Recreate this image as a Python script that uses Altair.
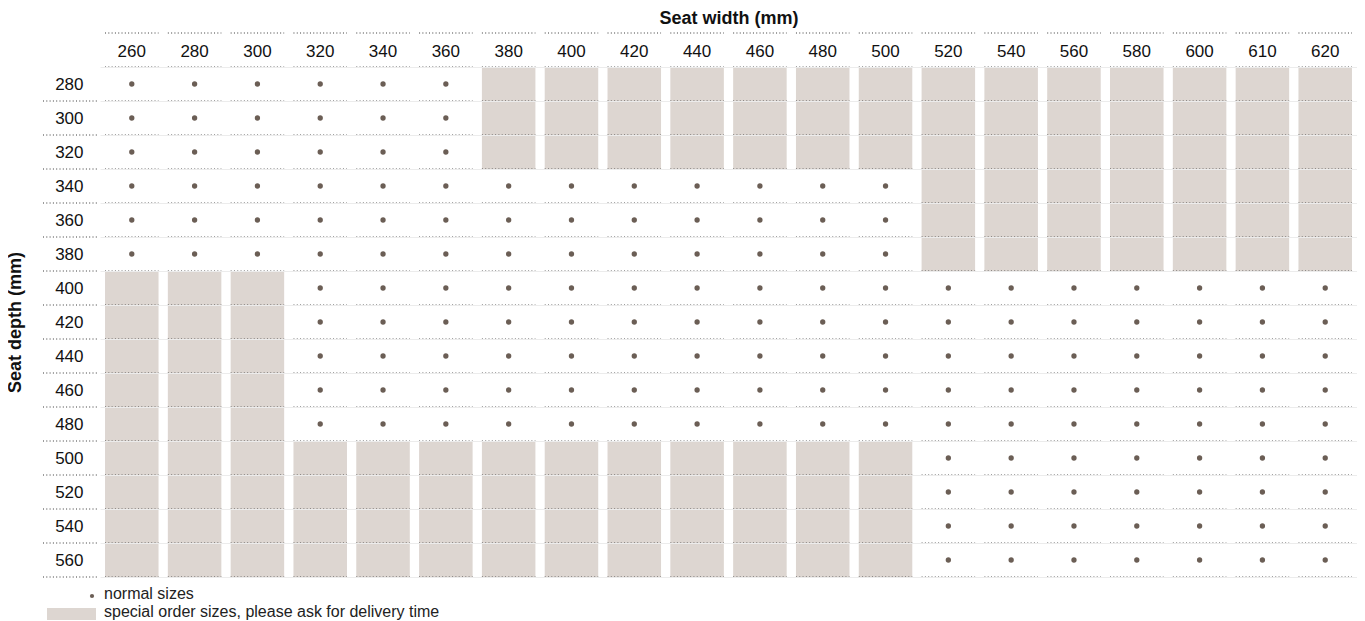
import altair as alt
import pandas as pd

widths = [260, 280, 300, 320, 340, 360, 380, 400, 420, 440,
          460, 480, 500, 520, 540, 560, 580, 600, 610, 620]
depths = [280, 300, 320, 340, 360, 380, 400, 420, 440, 460,
          480, 500, 520, 540, 560]
# one string per depth row, one character per width: "o" = normal size, "#" = special order
availability = [
    "oooooo##############",  # 280
    "oooooo##############",  # 300
    "oooooo##############",  # 320
    "ooooooooooooo#######",  # 340
    "ooooooooooooo#######",  # 360
    "ooooooooooooo#######",  # 380
    "###ooooooooooooooooo",  # 400
    "###ooooooooooooooooo",  # 420
    "###ooooooooooooooooo",  # 440
    "###ooooooooooooooooo",  # 460
    "###ooooooooooooooooo",  # 480
    "#############ooooooo",  # 500
    "#############ooooooo",  # 520
    "#############ooooooo",  # 540
    "#############ooooooo",  # 560
]
legend_labels = ["normal sizes", "special order sizes, please ask for delivery time"]
x_title = "Seat width (mm)"
y_title = "Seat depth (mm)"

rows = []
for d, codes in zip(depths, availability):
    for w, c in zip(widths, codes):
        rows.append({"width": w, "depth": d, "status": "normal" if c == "o" else "special"})
cells = pd.DataFrame(rows)
wdf = pd.DataFrame({"width": widths})
ddf = pd.DataFrame({"depth": depths})

FONT = "Liberation Sans"
DOT = "#6b5e55"
FILL = "#ddd6d1"
DASH = [1, 2.3]
LINE = "#3a3a3a"

xs = alt.Scale(domain=widths, paddingInner=0.148, paddingOuter=0.08)
ys = alt.Scale(domain=depths, paddingInner=0, paddingOuter=0)

ax_x = alt.Axis(orient="top", grid=False, domain=False, ticks=False,
                labelFontSize=17, labelPadding=7, labelColor="#111",
                labelAngle=0, titleFontSize=18, titleFontWeight="bold",
                titleColor="#111", titleBaseline="alphabetic", titleY=-44)
ax_y = alt.Axis(orient="left", grid=True, tickBand="extent", gridColor="#ececec",
                domain=False, ticks=False, labelFontSize=17, labelPadding=17,
                labelColor="#111", labelAlign="right",
                titleFontSize=18, titleFontWeight="bold", titleColor="#111",
                titleAngle=270, titleX=-85, titleY=255,
                titleBaseline="middle", titleAlign="center")


def X(bp=None):
    if bp is None:
        return alt.X("width:O", scale=xs, title=x_title, axis=ax_x)
    return alt.X("width:O", scale=xs, title=x_title, axis=ax_x, bandPosition=bp)


def Y(bp=None):
    if bp is None:
        return alt.Y("depth:O", scale=ys, title=y_title, axis=ax_y)
    return alt.Y("depth:O", scale=ys, title=y_title, axis=ax_y, bandPosition=bp)


base = alt.Chart(cells).mark_rect(opacity=0).encode(x=X(), y=Y())

special = alt.Chart(cells).transform_filter(alt.datum.status == "special").mark_rect(
    color=FILL).encode(x=X(), y=Y())

row_rules = alt.Chart(cells).mark_rule(strokeDash=DASH, color=LINE, strokeWidth=1).encode(
    x=X(0), x2=alt.X2("width", bandPosition=1), y=Y(1))

top_rules = alt.Chart(cells).transform_filter(alt.datum.depth == depths[0]).mark_rule(
    strokeDash=DASH, color=LINE, strokeWidth=1).encode(
    x=X(0), x2=alt.X2("width", bandPosition=1), y=Y(0))

header_rules = alt.Chart(wdf).mark_rule(strokeDash=DASH, color=LINE, strokeWidth=1).encode(
    x=X(0), x2=alt.X2("width", bandPosition=1), y=alt.value(-34))

label_rules = alt.Chart(ddf).mark_rule(strokeDash=DASH, color=LINE, strokeWidth=1).encode(
    x=alt.value(-57), x2=alt.value(-3), y=Y(1))

dots = alt.Chart(cells).transform_filter(alt.datum.status == "normal").mark_circle(
    color=DOT, size=28, opacity=1).encode(x=X(), y=Y())

leg1 = pd.DataFrame({"label": [legend_labels[0]]})
leg2 = pd.DataFrame({"label": [legend_labels[1]]})
leg_dot = alt.Chart(leg1).mark_circle(color=DOT, size=18, opacity=1).encode(
    x=alt.value(-8), y=alt.value(529))
leg_dot_text = alt.Chart(leg1).mark_text(align="left", baseline="alphabetic", fontSize=16,
                                         color="#222", font=FONT).encode(
    x=alt.value(4), y=alt.value(532), text="label:N")
leg_rect = alt.Chart(leg2).mark_rect(color=FILL).encode(
    x=alt.value(-53), x2=alt.value(-4), y=alt.value(541), y2=alt.value(553))
leg_rect_text = alt.Chart(leg2).mark_text(align="left", baseline="alphabetic", fontSize=16,
                                          color="#222", font=FONT).encode(
    x=alt.value(4), y=alt.value(550), text="label:N")

chart = alt.layer(
    base, special, row_rules, top_rules, header_rules, label_rules, dots,
    leg_dot, leg_dot_text, leg_rect, leg_rect_text,
).properties(
    width=1257, height=510,
    padding={"left": 92, "top": 59, "right": 0, "bottom": 44},
    autosize="none",
    background="white",
).configure(font=FONT).configure_view(stroke=None)

chart.save("out.html", embed_options={"renderer": "svg", "actions": False})
